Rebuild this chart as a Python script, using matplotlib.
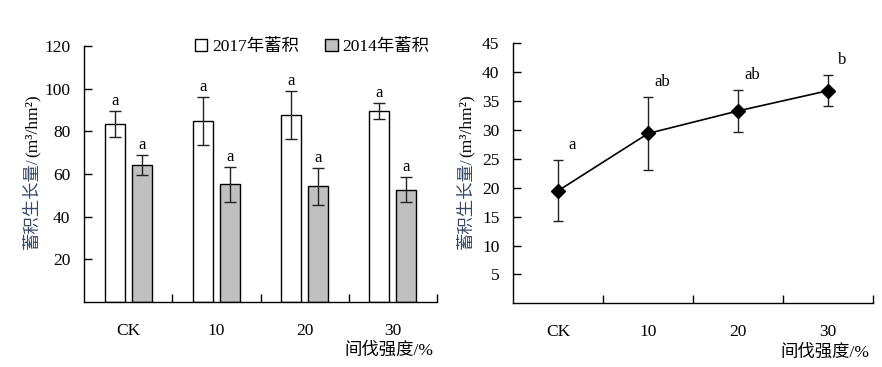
import matplotlib
matplotlib.use("Agg")
import matplotlib.pyplot as plt
import numpy as np

plt.rcParams['font.family'] = ['Liberation Serif', 'Noto Sans CJK SC', 'DejaVu Sans']

categories = ['CK', '10', '20', '30']

# left panel: stock in two years
stock_2017 = [83.3, 84.7, 87.5, 89.4]
err_2017 = [6.0, 11.3, 11.2, 3.7]
stock_2014 = [64.1, 55.2, 54.2, 52.7]
err_2014 = [4.6, 8.2, 8.7, 6.0]
letters_2017 = ['a', 'a', 'a', 'a']
letters_2014 = ['a', 'a', 'a', 'a']

# right panel: stock growth
growth = [19.5, 29.4, 33.3, 36.8]
growth_err = [5.3, 6.3, 3.7, 2.7]
growth_letters = ['a', 'ab', 'ab', 'b']

fs = 12.5
ylab_color = '#34496a'

fig = plt.figure(figsize=(8.82, 3.67), dpi=100)
ax1 = fig.add_axes([0.0956, 0.177, 0.3999, 0.6977])
ax2 = fig.add_axes([0.582, 0.1736, 0.4078, 0.7084])

x = np.arange(len(categories))
w = 0.227
off = 0.153

ax1.bar(x - off, stock_2017, w, color='white', edgecolor='black', linewidth=1,
        label='2017年蓄积', zorder=2)
ax1.bar(x + off, stock_2014, w, color='#c0c0c0', edgecolor='black', linewidth=1,
        label='2014年蓄积', zorder=2)
ax1.errorbar(x - off, stock_2017, yerr=err_2017, fmt='none', ecolor='#222222',
             elinewidth=1, capsize=4, capthick=1, zorder=3)
ax1.errorbar(x + off, stock_2014, yerr=err_2014, fmt='none', ecolor='#222222',
             elinewidth=1, capsize=4, capthick=1, zorder=3)
for i in range(len(categories)):
    ax1.annotate(letters_2017[i], (x[i] - off, stock_2017[i] + err_2017[i]),
                 xytext=(0, 2), textcoords='offset pixels', ha='center', va='bottom',
                 fontsize=12)
    ax1.annotate(letters_2014[i], (x[i] + off, stock_2014[i] + err_2014[i]),
                 xytext=(0, 2), textcoords='offset pixels', ha='center', va='bottom',
                 fontsize=12)
ax1.set_ylim(0, 120)
ax1.set_yticks([20, 40, 60, 80, 100, 120])
ax1.legend(loc='center left', bbox_to_anchor=(0.314, 0.996), ncol=2, frameon=False,
           borderaxespad=0, borderpad=0, handlelength=0.7, handleheight=0.7,
           handletextpad=0.3, columnspacing=1.5, fontsize=fs)

ax2.errorbar(x, growth, yerr=growth_err, color='black', ecolor='#222222', lw=1.2,
             elinewidth=1, capsize=3.6, capthick=1, marker='D', markersize=7)
for i in range(len(categories)):
    ax2.annotate(growth_letters[i], (x[i], growth[i] + growth_err[i]),
                 xytext=(14, 7), textcoords='offset pixels', ha='center', va='bottom',
                 fontsize=12)
ax2.set_ylim(0, 45)
ax2.set_yticks(np.arange(5, 50, 5))

for ax in (ax1, ax2):
    ax.set_xlim(-0.5, 3.5)
    ax.set_xticks(x)
    ax.set_xticklabels(categories, fontsize=fs)
    ax.set_xticks(x + 0.5, minor=True)
    ax.tick_params(axis='x', which='major', length=0, pad=15)
    ax.tick_params(axis='x', which='minor', direction='in', length=6, width=1)
    ax.tick_params(axis='y', direction='in', length=6, width=1, pad=10, labelsize=fs)
    for s in ('top', 'right'):
        ax.spines[s].set_visible(False)
    for s in ('left', 'bottom'):
        ax.spines[s].set_linewidth(1)
    ax.text(0.99, -0.19, '间伐强度/%', transform=ax.transAxes, ha='right', va='center',
            fontsize=fs)

# y labels: coloured Chinese part + black unit part
fig.canvas.draw()
r = fig.canvas.get_renderer()
for ax, xp, ybot in ((ax1, 33, 249), (ax2, 467, 249)):
    t1 = fig.text(xp / 882, 1 - ybot / 367, '蓄积生长量/', rotation=90, ha='center',
                  va='bottom', fontsize=fs, color=ylab_color)
    bb = t1.get_window_extent(r)
    fig.text(xp / 882, bb.y1 / 367, '(m³/hm²)', rotation=90, ha='center',
             va='bottom', fontsize=fs, color='black')

fig.savefig('out.png', dpi=100)
